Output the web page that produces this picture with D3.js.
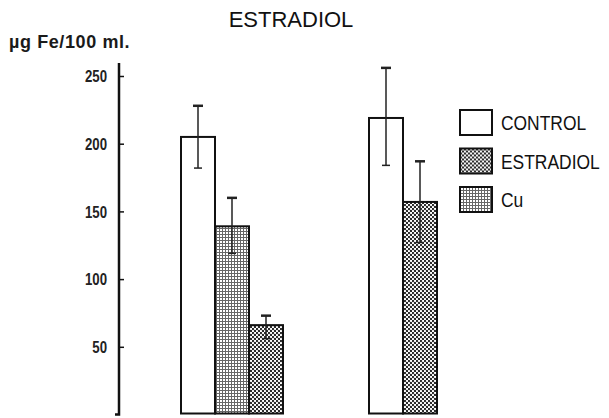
<!DOCTYPE html>
<html>
<head>
<meta charset="utf-8">
<script src="https://cdn.jsdelivr.net/npm/d3@7"></script>
<style>
  html, body { margin: 0; padding: 0; background: #fff; }
  svg { display: block; }
</style>
</head>
<body>
<svg id="chart" width="609" height="418"></svg>
<script>
// ---- data ----
const title = "ESTRADIOL";
const yLabel = "µg Fe/100 ml.";
const groups = ["G1", "G2"];
const series = ["CONTROL", "ESTRADIOL", "Cu"];
const group1Values = [205, 139, 66];
const group1ErrHigh = [228, 160, 73];
const group1ErrLow = [182, 119, 56];
const group2Values = [219, 157];
const group2ErrHigh = [256, 187];
const group2ErrLow = [184, 127];
const yTicks = [50, 100, 150, 200, 250];
const legendLabels = ["CONTROL", "ESTRADIOL", "Cu"];

// ---- setup ----
const svg = d3.select("#chart");
const defs = svg.append("defs");

// fine grid pattern
const grid = defs.append("pattern").attr("id", "grid")
  .attr("patternUnits", "userSpaceOnUse").attr("width", 3).attr("height", 3);
grid.append("rect").attr("width", 3).attr("height", 3).attr("fill", "#fff");
grid.append("rect").attr("x", 0).attr("y", 0).attr("width", 3).attr("height", 1).attr("fill", "#666");
grid.append("rect").attr("x", 0).attr("y", 0).attr("width", 1).attr("height", 3).attr("fill", "#666");

// coarse dot (checker) pattern
const dots = defs.append("pattern").attr("id", "dots")
  .attr("patternUnits", "userSpaceOnUse").attr("width", 4).attr("height", 4);
dots.append("rect").attr("width", 4).attr("height", 4).attr("fill", "#fff");
dots.append("circle").attr("cx", 1).attr("cy", 1).attr("r", 1.15).attr("fill", "#222");
dots.append("circle").attr("cx", 3).attr("cy", 3).attr("r", 1.15).attr("fill", "#222");

const y = d3.scaleLinear().domain([0, 250]).range([414.5, 76]);
const xGroup = d3.scaleBand().domain(groups).range([181, 557]).padding(0);
const xInner = d3.scaleBand().domain(series).range([0, 102]).padding(0);

const fills = {
  G1: ["#fff", "url(#grid)", "url(#dots)"],
  G2: ["#fff", "url(#dots)"]
};

const bars = [];
group1Values.forEach((v, i) => bars.push({ g: "G1", s: series[i], i, v, hi: group1ErrHigh[i], lo: group1ErrLow[i] }));
group2Values.forEach((v, i) => bars.push({ g: "G2", s: series[i], i, v, hi: group2ErrHigh[i], lo: group2ErrLow[i] }));

// ---- title ----
svg.append("text").attr("x", 291).attr("y", 27).attr("text-anchor", "middle")
  .attr("font-family", "Liberation Sans, Arial, sans-serif").attr("font-size", 22)
  .attr("fill", "#111").text(title);

svg.append("text").attr("x", 9).attr("y", 48)
  .attr("font-family", "Liberation Sans, Arial, sans-serif").attr("font-size", 18)
  .attr("letter-spacing", 0.6)
  .attr("font-weight", "bold").attr("fill", "#1a1a1a").text(yLabel);

// ---- axis ----
const sx = 0.8;
const axis = d3.axisRight(y).tickValues(yTicks).tickSize(5).tickFormat(d3.format("d"));
const ag = svg.append("g").attr("transform", "translate(119,0)").call(axis);
ag.select(".domain").remove();
ag.selectAll(".tick line").attr("stroke", "#111").attr("stroke-width", 1.5);
ag.selectAll(".tick text")
  .attr("x", -12 / sx).attr("text-anchor", "end").attr("dy", "0.35em")
  .attr("transform", `scale(${sx},1)`)
  .attr("font-family", "Liberation Sans, Arial, sans-serif")
  .attr("font-weight", "bold").attr("font-size", 16.5).attr("fill", "#222");
svg.append("path").attr("d", `M119,63 L119,${y(0)} L115,${y(0)}`)
  .attr("fill", "none").attr("stroke", "#111").attr("stroke-width", 2.5);

// ---- bars ----
const bw = xInner.bandwidth();
svg.append("g").selectAll("rect").data(bars).join("rect")
  .attr("x", d => xGroup(d.g) + xInner(d.s))
  .attr("y", d => y(d.v))
  .attr("width", bw)
  .attr("height", d => y(0) - y(d.v) - 1)
  .attr("fill", d => fills[d.g][d.i])
  .attr("stroke", "#111").attr("stroke-width", 2);

// ---- error bars ----
const eg = svg.append("g").attr("stroke", "#222").attr("stroke-width", 1.5);
bars.forEach(d => {
  const cx = xGroup(d.g) + xInner(d.s) + bw / 2;
  eg.append("line").attr("x1", cx).attr("x2", cx).attr("y1", y(d.hi)).attr("y2", y(d.lo));
  eg.append("line").attr("x1", cx - 5).attr("x2", cx + 5).attr("y1", y(d.hi)).attr("y2", y(d.hi)).attr("stroke-width", 2.5);
  eg.append("line").attr("x1", cx - 4).attr("x2", cx + 4).attr("y1", y(d.lo)).attr("y2", y(d.lo));
});

// ---- legend ----
const lsx = 0.83;
const legendFills = ["#fff", "url(#dots)", "url(#grid)"];
const lg = svg.append("g").attr("transform", "translate(460,110)");
legendLabels.forEach((lab, i) => {
  const row = lg.append("g").attr("transform", `translate(0,${i * 38.5})`);
  row.append("rect").attr("width", 32).attr("height", 25)
    .attr("fill", legendFills[i]).attr("stroke", "#111").attr("stroke-width", 2);
  row.append("text").attr("x", 41 / lsx).attr("y", 20.5)
    .attr("transform", `scale(${lsx},1)`)
    .attr("font-family", "Liberation Sans, Arial, sans-serif")
    .attr("font-size", 21).attr("fill", "#111").text(lab);
});
</script>
</body>
</html>
